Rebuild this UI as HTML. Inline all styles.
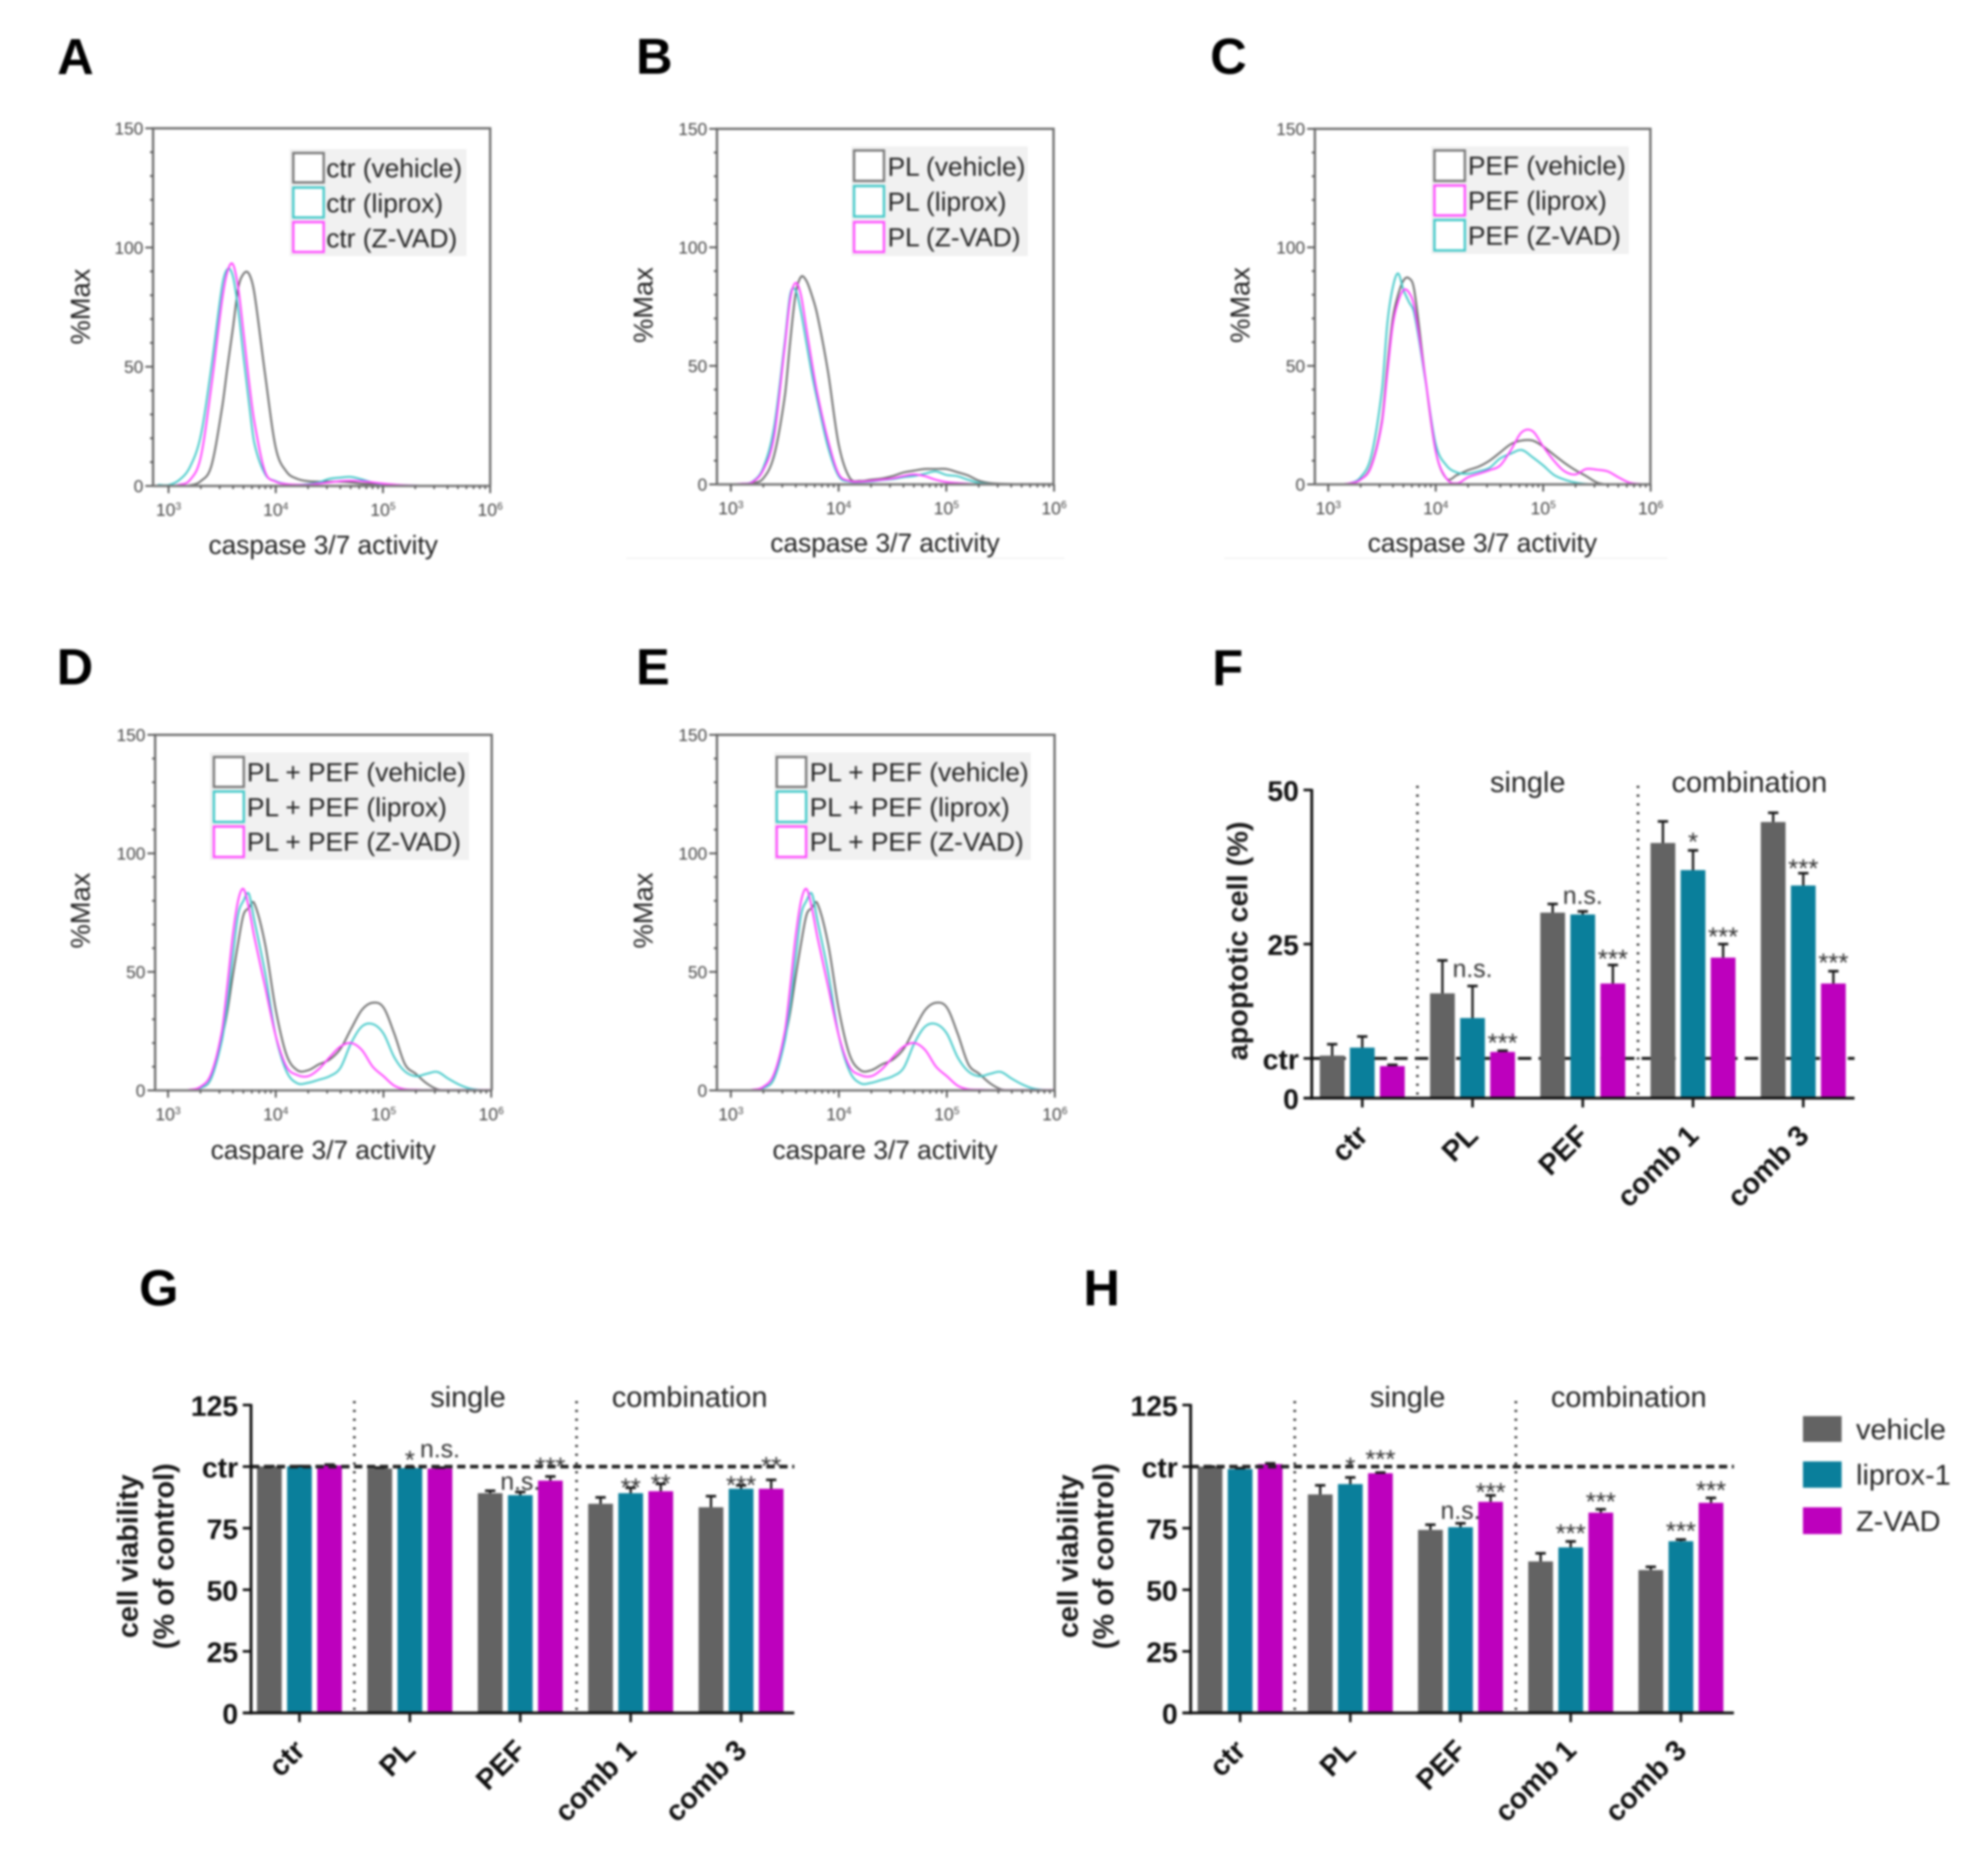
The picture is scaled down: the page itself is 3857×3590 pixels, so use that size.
<!DOCTYPE html>
<html lang="en">
<head>
<meta charset="utf-8">
<title>Caspase activity, apoptosis and viability panels</title>
<style>
html,body{margin:0;padding:0;background:#fff;width:3857px;height:3590px;overflow:hidden}
svg{display:block;filter:blur(2px);font-family:"Liberation Sans",Arial,sans-serif}
.letter{font-size:98px;font-weight:700;fill:#000}
.lg{font-size:51px;fill:#222}
.lgbg{fill:#f1f1f1}
.sw{fill:#fff;stroke-width:4.5}
.axt{font-size:51px;fill:#222;text-anchor:middle}
.maxt{font-size:53px;fill:#222;text-anchor:middle}
.grp{font-size:56px;fill:#222;text-anchor:middle}
.bart{font-size:56px;font-weight:700;fill:#1a1a1a;text-anchor:middle}
.leg2{font-size:56px;fill:#222}
</style>
</head>
<body>
<svg id="fig" xmlns="http://www.w3.org/2000/svg" width="3857" height="3590" viewBox="0 0 3857 3590">
  <rect x="0" y="0" width="3857" height="3590" fill="#fff"/>

  <!-- panel letters -->
  <text class="letter" x="111" y="144">A</text>
  <text class="letter" x="1234" y="143">B</text>
  <text class="letter" x="2348" y="143">C</text>
  <text class="letter" x="110" y="1328">D</text>
  <text class="letter" x="1234" y="1328">E</text>
  <text class="letter" x="2352" y="1330">F</text>
  <text class="letter" x="270" y="2533">G</text>
  <text class="letter" x="2102" y="2533">H</text>

  <!-- flow axis titles -->
  <text class="axt" x="627" y="1075">caspase 3/7 activity</text>
  <text class="axt" x="1717" y="1071">caspase 3/7 activity</text>
  <text class="axt" x="2876" y="1071">caspase 3/7 activity</text>
  <text class="axt" x="627" y="2249">caspare 3/7 activity</text>
  <text class="axt" x="1717" y="2249">caspare 3/7 activity</text>
  <text class="maxt" transform="translate(174,595) rotate(-90)">%Max</text>
  <text class="maxt" transform="translate(1266,592) rotate(-90)">%Max</text>
  <text class="maxt" transform="translate(2424,592) rotate(-90)">%Max</text>
  <text class="maxt" transform="translate(174,1767) rotate(-90)">%Max</text>
  <text class="maxt" transform="translate(1266,1767) rotate(-90)">%Max</text>
  <line x1="1215" y1="1083" x2="2065" y2="1083" stroke="#f3f3f3" stroke-width="3"/>
  <line x1="2375" y1="1083" x2="3235" y2="1083" stroke="#f3f3f3" stroke-width="3"/>

  <!-- bar chart titles -->
  <text class="bart" transform="translate(2420,1826) rotate(-90)">apoptotic cell (%)</text>
  <text class="bart" transform="translate(267,3020) rotate(-90)">cell viability</text>
  <text class="bart" transform="translate(337,3020) rotate(-90)">(% of control)</text>
  <text class="bart" transform="translate(2091,3020) rotate(-90)">cell viability</text>
  <text class="bart" transform="translate(2160,3020) rotate(-90)">(% of control)</text>
  <text class="grp" x="2964" y="1537">single</text>
  <text class="grp" x="3394" y="1537">combination</text>
  <text class="grp" x="908" y="2730">single</text>
  <text class="grp" x="1338" y="2730">combination</text>
  <text class="grp" x="2731" y="2730">single</text>
  <text class="grp" x="3160" y="2730">combination</text>

  <g id="plots"></g>

  <!-- legend A -->
  <g>
    <rect class="lgbg" x="562" y="289" width="343" height="208"/>
    <rect class="sw" x="569" y="297" width="59" height="57" stroke="#777"/>
    <rect class="sw" x="569" y="364" width="59" height="58" stroke="#40c8c8"/>
    <rect class="sw" x="569" y="431" width="59" height="58" stroke="#ff4cff"/>
    <text class="lg" x="633" y="344">ctr (vehicle)</text>
    <text class="lg" x="633" y="412">ctr (liprox)</text>
    <text class="lg" x="633" y="480">ctr (Z-VAD)</text>
  </g>
  <!-- legend B -->
  <g>
    <rect class="lgbg" x="1652" y="284" width="342" height="213"/>
    <rect class="sw" x="1657" y="292" width="58" height="59" stroke="#777"/>
    <rect class="sw" x="1657" y="361" width="58" height="59" stroke="#40c8c8"/>
    <rect class="sw" x="1657" y="431" width="58" height="58" stroke="#ff4cff"/>
    <text class="lg" x="1722" y="341">PL (vehicle)</text>
    <text class="lg" x="1722" y="409">PL (liprox)</text>
    <text class="lg" x="1722" y="478">PL (Z-VAD)</text>
  </g>
  <!-- legend C -->
  <g>
    <rect class="lgbg" x="2777" y="284" width="383" height="209"/>
    <rect class="sw" x="2783" y="292" width="59" height="59" stroke="#777"/>
    <rect class="sw" x="2783" y="360" width="59" height="58" stroke="#ff4cff"/>
    <rect class="sw" x="2783" y="427" width="59" height="59" stroke="#40c8c8"/>
    <text class="lg" x="2848" y="339">PEF (vehicle)</text>
    <text class="lg" x="2848" y="407">PEF (liprox)</text>
    <text class="lg" x="2848" y="475">PEF (Z-VAD)</text>
  </g>
  <!-- legend D -->
  <g>
    <rect class="lgbg" x="407" y="1460" width="503" height="209"/>
    <rect class="sw" x="415" y="1469" width="58" height="58" stroke="#777"/>
    <rect class="sw" x="415" y="1536" width="58" height="59" stroke="#40c8c8"/>
    <rect class="sw" x="415" y="1604" width="58" height="59" stroke="#ff4cff"/>
    <text class="lg" x="479" y="1516">PL + PEF (vehicle)</text>
    <text class="lg" x="479" y="1584">PL + PEF (liprox)</text>
    <text class="lg" x="479" y="1651">PL + PEF (Z-VAD)</text>
  </g>
  <!-- legend E -->
  <g>
    <rect class="lgbg" x="1502" y="1460" width="498" height="209"/>
    <rect class="sw" x="1507" y="1469" width="57" height="58" stroke="#777"/>
    <rect class="sw" x="1507" y="1536" width="57" height="59" stroke="#40c8c8"/>
    <rect class="sw" x="1507" y="1604" width="57" height="59" stroke="#ff4cff"/>
    <text class="lg" x="1571" y="1516">PL + PEF (vehicle)</text>
    <text class="lg" x="1571" y="1584">PL + PEF (liprox)</text>
    <text class="lg" x="1571" y="1651">PL + PEF (Z-VAD)</text>
  </g>
  <!-- bar legend -->
  <g>
    <rect x="3498" y="2748" width="75" height="50" fill="#636363"/>
    <rect x="3498" y="2836" width="75" height="51" fill="#0a7f9b"/>
    <rect x="3498" y="2925" width="75" height="52" fill="#bd00bd"/>
    <text class="leg2" x="3601" y="2793">vehicle</text>
    <text class="leg2" x="3601" y="2881">liprox-1</text>
    <text class="leg2" x="3601" y="2971">Z-VAD</text>
  </g>
</svg>

<script>
// ---------- flow histogram data: log10 intensity grid and % of max per curve ----------
const logGrid = [2.9,3.0,3.1,3.2,3.3,3.4,3.5,3.55,3.6,3.65,3.7,3.75,3.8,3.9,4.0,4.1,4.2,4.3,4.4,4.5,4.6,4.7,4.8,4.9,5.0,5.1,5.2,5.3,5.4,5.5,5.6,5.7,5.8,5.9,6.0];
const flowYTicks = [0,50,100,150];
const flowYMinor = [10,20,30,40,60,70,80,90,110,120,130,140];
const flowXTicks = [3,4,5,6];
const flowXTickLabels = ['3','4','5','6'];

const aVehicle = [0,0,0,.3,2,8.5,33,50,66,83,89,89,81,47,16,6,3,2,1.8,1.8,1.8,1.5,1,.8,.5,.3,.2,.1,.1,.1,.1,.1,.1,.1,.1];
const aLiprox  = [.5,.4,2.5,8,21,50,84,91,88,74,54,35,18,5,2,.8,.5,.8,1.5,3,3.5,3.8,2.8,1.5,.8,.5,.3,.2,.1,.1,.1,.1,.1,.1,.1];
const aZvad    = [0,0,.5,2.5,12,42,78,90,93,83,64,44,27,6,1.8,.8,.5,.5,1,1.5,2,2.2,2,1.5,1,.6,.3,.2,.1,.1,.1,.1,.1,.1,.1];

const bVehicle = [0,0,.2,.6,2.5,12,37,60,80,87.5,86,80,72,48,17,3,1.5,2,2.5,3.5,5,5.8,6.5,6.5,6.5,5.2,3.8,1.6,.6,.3,.2,.2,.2,.2,.2];
const bLiprox  = [0,.1,.3,1.2,7,24,60,80,82,73,60,47,36,16,3.5,1.2,1,1.2,1.8,2.2,3,3.5,4.5,5.5,4,3.5,2,.7,.2,.1,.1,.1,.1,.1,.1];
const bZvad    = [0,.1,.3,1,6,20,58,78,85,80,66,52,39,19,4.5,1.5,1.2,1.5,2,2.5,3.5,4.2,3.5,2,1,.6,.3,.1,.1,.1,.1,.1,.1,.1,.1];

const cVehicle = [0,0,0,.5,2,8,27,50,70,80,86,87,82,46,14,2.5,4,6,7.5,10,13.5,17,18.5,18.5,16,12.5,9,6,3.5,.8,0,0,0,0,0];
const cLiprox  = [0,0,0,.5,2,7.5,26,47,67,77,82,81,75,46,14,2.5,.5,3,4.5,6,8,14.5,22,22.5,16,10,5.5,4.2,6.5,6.2,5.5,3,.8,.2,0];
const cZvad    = [0,0,0,.5,3,12,40,68,83,89,82,77,72,45,17,8,5,4.5,5.5,7,11,13,14.5,11.5,8,4,2,.8,.2,0,0,0,0,0,0];

const dVehicle = [0,0,0,.2,1,5,22,33,48,62,74,77,79,62,34,15,8.5,8.5,11,13,17.5,26,34,37,35,24,11,7,3,.5,0,0,0,0,0];
const dLiprox  = [0,0,0,.2,1,5,21,36,56,74,80,83,72,50,23,8,3,3.2,4.5,6,9.5,20,27,28,24,14,8,6,7,7.8,5,2.5,.8,.2,.1];
const dZvad    = [0,0,0,.3,1.5,7,25,44,65,80,85,77,65,44,23,10,6.5,6,9,14,18.5,20,17,10,6,2,.5,.3,.2,.2,.2,.2,.2,.2,.2];

const eVehicle = [0,0,0,.2,1,5,22,33,48,62,74,77,79,62,34,15,8.5,8.5,11,13,17.5,26,34,37,35,24,11,7,3,.5,0,0,0,0,0];
const eLiprox  = [0,0,0,.2,1,5,21,36,56,74,80,83,72,50,23,8,3,3.2,4.5,6,9.5,20,27,28,24,14,8,6,7,7.8,5,2.5,.8,.2,.1];
const eZvad    = [0,0,0,.3,1.5,7,25,44,65,80,85,77,65,44,23,10,6.5,6,9,14,18.5,20,17,10,6,2,.5,.3,.2,.2,.2,.2,.2,.2,.2];

// ---------- bar chart data ----------
const barCategories = ['ctr','PL','PEF','comb 1','comb 3'];

const fVehicle = [6.9,17.0,30.1,41.4,44.8];
const fLiprox  = [8.2,13.0,29.8,37.0,34.5];
const fZvad    = [5.2,7.5,18.6,22.8,18.6];
const fVehicleErr = [1.85,5.35,1.4,3.5,1.5];
const fLiproxErr  = [1.8,5.2,.5,3.2,2.0];
const fZvadErr    = [.2,.2,3.0,2.2,2.0];
const fTicks = [0,6.45,25,50];
const fTickLabels = ['0','ctr','25','50'];
const fControl = 6.45;
const fSigCat = [1,1,2,2,3,3,4,4];
const fSigSer = [1,2,1,2,1,2,1,2];
const fSigText = ['n.s.','***','n.s.','***','*','***','***','***'];
const fSigLevel = [20.75,10,32.6,23.6,42.6,27.2,38.3,23];

const gVehicle = [100.1,99.2,89.2,84.9,83.5];
const gLiprox  = [100.1,99.4,88.4,89.2,91];
const gZvad    = [100.5,99.2,94.3,90,91];
const gVehicleErr = [.1,.4,1,2.6,4.5];
const gLiproxErr  = [.1,.3,1.3,2.2,1.4];
const gZvadErr    = [.3,.4,1.7,3,3.6];
const gTicks = [0,25,50,75,100,125];
const gTickLabels = ['0','25','50','75','ctr','125'];
const gControl = 100;
const gSigCat = [1,1,2,2,3,3,4,4];
const gSigSer = [1,2,1,2,1,2,1,2];
const gSigText = ['*','n.s.','n.s.','***','**','**','***','**'];
const gSigLevel = [105.2,106.5,93.3,102.5,94,95.6,95,102.7];

const hVehicle = [100,88.7,74.3,61.5,58];
const hLiprox  = [99,92.9,75.4,67.2,69.7];
const hZvad    = [101,97.3,85.7,81.3,85.3];
const hVehicleErr = [0,3.7,2.1,3.3,1.3];
const hLiproxErr  = [.4,2.7,1.6,2.4,.7];
const hZvadErr    = [.3,.3,2.6,1.4,2];
const hTicks = [0,25,50,75,100,125];
const hTickLabels = ['0','25','50','75','ctr','125'];
const hControl = 100;
const hSigCat = [1,1,2,2,3,3,4,4];
const hSigSer = [1,2,1,2,1,2,1,2];
const hSigText = ['*','***','n.s.','***','***','***','***','***'];
const hSigLevel = [102.5,105.5,81.5,92.2,75.4,88.3,76.4,92.9];

const NS = 'http://www.w3.org/2000/svg';
const plots = document.getElementById('plots');
const GRAY_C = '#6a6a6a', TEAL_C = '#40c8c8', MAG_C = '#ff40ff';
const GRAY_B = '#636363', TEAL_B = '#0a7f9b', MAG_B = '#bd00bd';

function mk(parent, tag){
  const el = document.createElementNS(NS, tag);
  parent.appendChild(el);
  return el;
}
function setA(el, k, v){ el.setAttribute(k, v); }

function drawLine(parent, x1, y1, x2, y2, stroke, w){
  const el = mk(parent, 'line');
  setA(el,'x1',x1); setA(el,'y1',y1); setA(el,'x2',x2); setA(el,'y2',y2);
  setA(el,'stroke',stroke); setA(el,'stroke-width',w);
  return el;
}
function drawText(parent, x, y, str, size, fill, anchor, weight){
  const el = mk(parent, 'text');
  setA(el,'x',x); setA(el,'y',y);
  setA(el,'font-size',size); setA(el,'fill',fill); setA(el,'text-anchor',anchor);
  if (weight) setA(el,'font-weight',weight);
  el.textContent = str;
  return el;
}

function smoothPath(pts){
  let d = 'M' + pts[0][0].toFixed(1) + ' ' + pts[0][1].toFixed(1);
  for (let i = 0; i < pts.length - 1; i++){
    const p0 = pts[Math.max(0,i-1)], p1 = pts[i], p2 = pts[i+1], p3 = pts[Math.min(pts.length-1,i+2)];
    const a = (p2[0]-p1[0]) / Math.max(1e-6,(p2[0]-p0[0])) / 3;
    const b = (p2[0]-p1[0]) / Math.max(1e-6,(p3[0]-p1[0])) / 3;
    const c1x = p1[0] + (p2[0]-p0[0])*a, c1y = p1[1] + (p2[1]-p0[1])*a;
    const c2x = p2[0] - (p3[0]-p1[0])*b, c2y = p2[1] - (p3[1]-p1[1])*b;
    d += 'C' + c1x.toFixed(1) + ' ' + c1y.toFixed(1) + ' ' + c2x.toFixed(1) + ' ' + c2y.toFixed(1) + ' ' + p2[0].toFixed(1) + ' ' + p2[1].toFixed(1);
  }
  return d;
}

function flowPanel(id, left, right, top, bottom, tick3, decade, curves){
  const g = mk(plots, 'g');
  
  
  const xS = v => tick3 + (v - 3) * decade;
  const yS = v => bottom - v * (bottom - top) / 150;

  curves.forEach(c => {
    const path = mk(g, 'path');
    const pts = logGrid.map((lx, i) => [xS(lx), yS(c.values[i])]);
    setA(path,'d',smoothPath(pts));
    setA(path,'fill','none');
    setA(path,'stroke',c.color);
    setA(path,'stroke-width',3.6);
    setA(path,'stroke-linejoin','round');
    
    
  });

  const frame = mk(g, 'path');
  setA(frame,'d','M'+left+' '+bottom+'V'+top+'H'+right+'V'+bottom);
  setA(frame,'fill','none'); setA(frame,'stroke','#6e6e6e'); setA(frame,'stroke-width',4.5);
  
  

  const base = drawLine(g, left, bottom, right, bottom, '#808080', 5);
  
  

  flowYTicks.forEach(v => {
    const t = drawLine(g, left-15, yS(v), left, yS(v), '#555', 3.5);
    
    
    const l = drawText(g, left-19, yS(v)+12, String(v), 33.5, '#444', 'end');
    
    
  });
  flowYMinor.forEach(v => {
    const t = drawLine(g, left-6, yS(v), left, yS(v), '#555', 3.5);
    
    
  });
  flowXTicks.forEach((k, i) => {
    const t = drawLine(g, xS(k), bottom, xS(k), bottom+14, '#555', 3.5);
    
    
    const l = drawText(g, xS(k), bottom+58, '10', 34, '#444', 'middle');
    
    
    const s = mk(l, 'tspan');
    setA(s,'dy',-12); setA(s,'font-size',20);
    s.textContent = flowXTickLabels[i];
  });
  [3,4,5].forEach(k => {
    [2,3,4,5,6,7,8,9].forEach(m => {
      const lv = k + Math.log10(m);
      const t = drawLine(g, xS(lv), bottom, xS(lv), bottom+6, '#555', 3.2);
      
      
    });
  });
}

flowPanel('a', 297, 951, 249, 943, 327, 208, [
  {name:'vehicle', color:GRAY_C, values:aVehicle},
  {name:'liprox', color:TEAL_C, values:aLiprox},
  {name:'z-vad', color:MAG_C, values:aZvad}
]);
flowPanel('b', 1391, 2044, 250, 940, 1418, 209, [
  {name:'vehicle', color:GRAY_C, values:bVehicle},
  {name:'liprox', color:TEAL_C, values:bLiprox},
  {name:'z-vad', color:MAG_C, values:bZvad}
]);
flowPanel('c', 2551, 3202, 250, 940, 2577, 208.5, [
  {name:'vehicle', color:GRAY_C, values:cVehicle},
  {name:'z-vad', color:TEAL_C, values:cZvad},
  {name:'liprox', color:MAG_C, values:cLiprox}
]);
flowPanel('d', 301, 954, 1426, 2116, 326, 209, [
  {name:'vehicle', color:GRAY_C, values:dVehicle},
  {name:'liprox', color:TEAL_C, values:dLiprox},
  {name:'z-vad', color:MAG_C, values:dZvad}
]);
flowPanel('e', 1391, 2046, 1426, 2116, 1418, 209.5, [
  {name:'vehicle', color:GRAY_C, values:eVehicle},
  {name:'liprox', color:TEAL_C, values:eLiprox},
  {name:'z-vad', color:MAG_C, values:eZvad}
]);

function barPanel(o){
  const g = mk(plots, 'g');
  
  
  const yS = v => o.y0 - v * o.pxPerUnit;
  const xC = i => o.firstTick + i * o.step;
  const BAR = 48, GAP = 58.4;
  const colors = [GRAY_B, TEAL_B, MAG_B];
  const names = ['vehicle','liprox','z-vad'];

  if (o.dashBehind){
    const dash = drawLine(g, o.axisX, yS(o.control), o.axisRight, yS(o.control), '#111', 5.5);
    setA(dash,'stroke-dasharray',o.dash);
    
    
  }

  o.dividers.forEach((dx, i) => {
    const d = drawLine(g, dx, o.dividerTop, dx, o.y0-6, '#222', 5);
    setA(d,'stroke-dasharray','4 13');
    
    
  });

  o.series.forEach((vals, s) => {
    vals.forEach((v, i) => {
      const cx = xC(i) + (s - 1) * GAP;
      const r = mk(g, 'rect');
      setA(r,'x',cx - BAR/2); setA(r,'y',yS(v)); setA(r,'width',BAR); setA(r,'height',o.y0 - yS(v));
      setA(r,'fill',colors[s]);
      
      
      const top = yS(v + o.errors[s][i]);
      const eb = drawLine(g, cx, yS(v), cx, top, '#1a1a1a', 4.5);
      
      
      const cap = drawLine(g, cx-10, top, cx+10, top, '#1a1a1a', 5);
      
      
    });
  });

  if (!o.dashBehind){
    const dash = drawLine(g, o.axisX, yS(o.control), o.axisRight, yS(o.control), '#222', 7);
    setA(dash,'stroke-dasharray',o.dash);
    
    
  }

  const ya = drawLine(g, o.axisX, yS(o.yMax)-2, o.axisX, o.y0+3, '#111', 5.5);
  
  
  const xa = drawLine(g, o.axisX-16, o.y0, o.axisRight, o.y0, '#111', 5.5);
  
  

  o.ticks.forEach((v, i) => {
    const t = drawLine(g, o.axisX-16, yS(v), o.axisX, yS(v), '#111', 5);
    
    
    const l = drawText(g, o.axisX-25, yS(v)+21, o.tickLabels[i], 55, '#111', 'end', 700);
    
    
  });

  barCategories.forEach((c, i) => {
    const t = drawLine(g, xC(i), o.y0, xC(i), o.y0+18, '#111', 5);
    
    
    const l = drawText(g, 0, 0, c, 56, '#111', 'end', 700);
    setA(l,'transform','translate(' + (xC(i)+14) + ',' + (o.y0+76) + ') rotate(-45)');
    
    
  });

  o.sigText.forEach((str, k) => {
    const cx = xC(o.sigCat[k]) + (o.sigSer[k] - 1) * GAP;
    const isStar = str.charAt(0) === '*';
    const size = isStar ? 50 : 48;
    const base = yS(o.sigLevel[k]) + (isStar ? 29 : 13);
    const l = drawText(g, cx, base, str, size, '#333', 'middle');
    
    
  });
}

barPanel({id:'f', y0:2131, pxPerUnit:11.96, yMax:50, firstTick:2643, step:213.9, axisX:2545, axisRight:3598,
  dividers:[2750,3178], dividerTop:1525, control:fControl, dashBehind:true, dash:'26 14',
  series:[fVehicle,fLiprox,fZvad], errors:[fVehicleErr,fLiproxErr,fZvadErr],
  ticks:fTicks, tickLabels:fTickLabels, sigCat:fSigCat, sigSer:fSigSer, sigText:fSigText, sigLevel:fSigLevel});
barPanel({id:'g', y0:3324, pxPerUnit:4.78, yMax:125, firstTick:581, step:214.2, axisX:487, axisRight:1541,
  dividers:[687.5,1118.6], dividerTop:2719, control:gControl, dashBehind:false, dash:'16 9',
  series:[gVehicle,gLiprox,gZvad], errors:[gVehicleErr,gLiproxErr,gZvadErr],
  ticks:gTicks, tickLabels:gTickLabels, sigCat:gSigCat, sigSer:gSigSer, sigText:gSigText, sigLevel:gSigLevel});
barPanel({id:'h', y0:3324, pxPerUnit:4.78, yMax:125, firstTick:2406, step:213.8, axisX:2310, axisRight:3364,
  dividers:[2512,2941], dividerTop:2719, control:hControl, dashBehind:false, dash:'16 9',
  series:[hVehicle,hLiprox,hZvad], errors:[hVehicleErr,hLiproxErr,hZvadErr],
  ticks:hTicks, tickLabels:hTickLabels, sigCat:hSigCat, sigSer:hSigSer, sigText:hSigText, sigLevel:hSigLevel});
</script>
</body>
</html>
